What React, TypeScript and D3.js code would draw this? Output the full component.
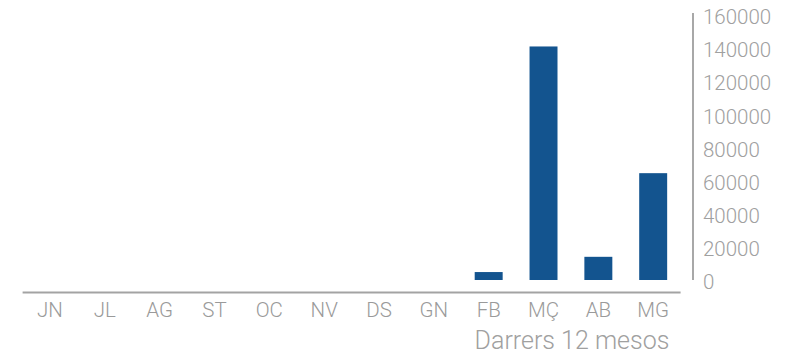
import React from 'react';
import * as d3 from 'd3';

const months = ["JN", "JL", "AG", "ST", "OC", "NV", "DS", "GN", "FB", "MÇ", "AB", "MG"];
const values = [0, 0, 0, 0, 0, 0, 0, 0, 4800, 141000, 14000, 64500];
const yTicks = [0, 20000, 40000, 60000, 80000, 100000, 120000, 140000, 160000];
const xTitle = "Darrers 12 mesos";

const W = 798;
const H = 355;
const FONT = "'Helvetica Neue', Roboto, 'Liberation Sans', sans-serif";

const App: React.FC = () => {
    const x = d3.scaleBand<string>()
        .domain(months)
        .range([22.6, 680.6])
        .paddingInner(0.49)
        .paddingOuter(0.245);

    const y = d3.scaleLinear()
        .domain([0, 160000])
        .range([280, 15]);

    return (
        <svg width={W} height={H} style={{ position: 'absolute', left: 0, top: 0, display: 'block' }}
            fontFamily={FONT} fontWeight={300}>
            <rect width={W} height={H} fill="#fff" />
            {/* bars */}
            {months.map((m, i) => (
                <rect key={m}
                    x={x(m)}
                    y={y(values[i])}
                    width={x.bandwidth()}
                    height={y(0) - y(values[i])}
                    fill="#13548f" />
            ))}
            {/* baseline */}
            <line x1={22.6} x2={680.6} y1={292.5} y2={292.5} stroke="#a3a3a3" strokeWidth={2} />
            {/* right axis */}
            <line x1={693} x2={693} y1={y(160000) - 2} y2={y(0)} stroke="#a8a8a8" strokeWidth={2} />
            {yTicks.map(t => (
                <text key={t} x={703} y={y(t) + 2} dy="0.35em" fontSize={20.5} fill="#a0a0a0">{t}</text>
            ))}
            {/* month labels */}
            {months.map(m => (
                <text key={m} x={(x(m) ?? 0) + x.bandwidth() / 2} y={310} dy="0.35em"
                    textAnchor="middle" fontSize={20.5} fill="#9a9a9a">{m}</text>
            ))}
            <text x={572} y={340} dy="0.35em" textAnchor="middle" fontSize={25} fill="#a0a0a0">{xTitle}</text>
        </svg>
    );
};

export default App;
